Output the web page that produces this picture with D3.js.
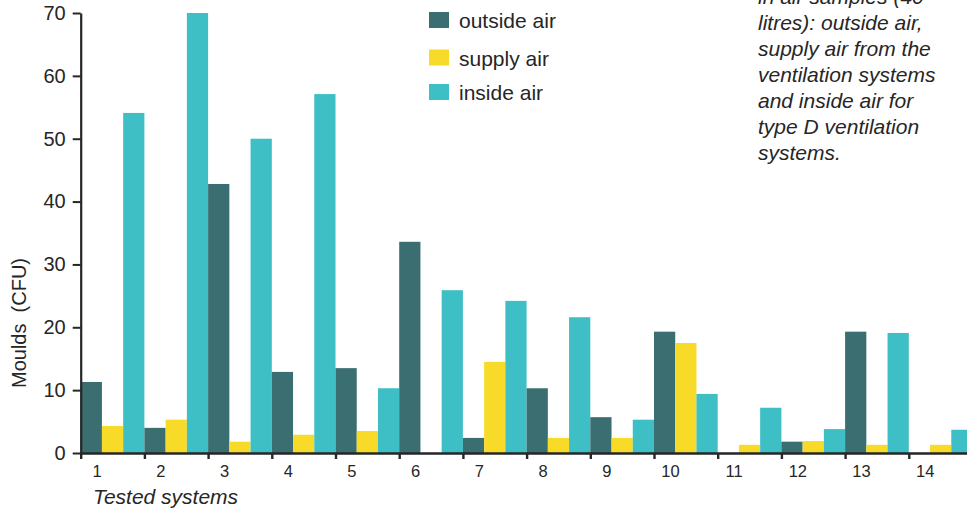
<!DOCTYPE html>
<html>
<head>
<meta charset="utf-8">
<script src="https://cdn.jsdelivr.net/npm/d3@7"></script>
<style>
  html, body { margin: 0; padding: 0; background: #fff; }
  svg { display: block; font-family: "Liberation Sans", Arial, sans-serif; }
</style>
</head>
<body>
<svg id="chart" width="967" height="510"></svg>
<script>
// Tested ventilation systems (type D)
const systems = ["1","2","3","4","5","6","7","8","9","10","11","12","13","14"];
const seriesNames = ["outside air", "supply air", "inside air"];
// Mould counts (CFU) per 40 litre air sample
const outsideAir = [11.3, 4.0, 42.8, 12.9, 13.5, 33.6, 2.4, 10.3, 5.7, 19.3, 0, 1.8, 19.3, 0];
const supplyAir  = [4.3, 5.3, 1.8, 2.9, 3.5, 0, 14.5, 2.4, 2.4, 17.5, 1.3, 1.9, 1.3, 1.3];
const insideAir  = [54.1, 70, 50, 57.1, 10.3, 25.9, 24.2, 21.6, 5.3, 9.4, 7.2, 3.8, 19.1, 3.7];
const yTicks = [0, 10, 20, 30, 40, 50, 60, 70];
const noteLines = [
  "in air samples (40",
  "litres): outside air,",
  "supply air from the",
  "ventilation systems",
  "and inside air for",
  "type D ventilation",
  "systems."
];

const colors = { "outside air": "#3b6e70", "supply air": "#f8db28", "inside air": "#3dbfc5" };
const ink = "#262626";

const seriesValues = [outsideAir, supplyAir, insideAir];
const rows = systems.map((s, i) => ({
  system: s,
  values: seriesNames.map((name, k) => ({ name, value: seriesValues[k][i] }))
}));

const svg = d3.select("#chart");

const x0 = d3.scaleBand().domain(systems).range([80.7, 972.5]).padding(0);
const x1 = d3.scaleBand().domain(seriesNames).range([0, x0.bandwidth()]).padding(0);
const y = d3.scaleLinear().domain([0, 70]).range([453, 13]);

// Bars
const groups = svg.append("g").selectAll("g")
  .data(rows).join("g")
  .attr("transform", d => `translate(${x0(d.system)},0)`);

groups.selectAll("rect")
  .data(d => d.values.filter(v => v.value > 0))
  .join("rect")
  .attr("x", d => x1(d.name))
  .attr("width", x1.bandwidth())
  .attr("y", d => y(d.value))
  .attr("height", d => y(0) - y(d.value))
  .attr("fill", d => colors[d.name]);

// Y axis
const yAxis = svg.append("g")
  .attr("transform", "translate(80.7,0)")
  .call(d3.axisLeft(y).tickValues(yTicks).tickSize(8).tickSizeOuter(0).tickPadding(7));
yAxis.select(".domain").attr("stroke", ink).attr("stroke-width", 2.2);
yAxis.selectAll(".tick line").attr("stroke", ink).attr("stroke-width", 2);
yAxis.selectAll(".tick text")
  .attr("fill", ink).style("font-size", "20px");

// X axis: ticks at group boundaries, labels sit within each group
const xPos = d3.scaleLinear().domain([0, systems.length]).range(x0.range());
const xAxis = svg.append("g")
  .attr("transform", `translate(0,${y(0)})`)
  .call(d3.axisBottom(xPos)
    .tickValues(d3.range(0, systems.length))
    .tickFormat(i => systems[i])
    .tickSize(6).tickSizeOuter(0).tickPadding(6));
xAxis.select(".domain").attr("stroke", ink).attr("stroke-width", 2.6);
xAxis.selectAll(".tick line").attr("stroke", ink).attr("stroke-width", 2.4);
xAxis.selectAll(".tick text")
  .attr("x", x0.bandwidth() / 4)
  .attr("fill", ink).style("font-size", "16.5px");

// Axis titles
svg.append("text")
  .attr("transform", "translate(26,323) rotate(-90)")
  .attr("text-anchor", "middle")
  .attr("fill", ink)
  .style("font-size", "20px")
  .text("Moulds\u00a0\u00a0(CFU)");

svg.append("text")
  .attr("x", 93).attr("y", 504)
  .attr("fill", ink)
  .style("font-size", "21px")
  .style("font-style", "italic")
  .text("Tested systems");

// Legend
const legend = svg.append("g").selectAll("g")
  .data(seriesNames).join("g")
  .attr("transform", (d, i) => `translate(429,${[12, 49.5, 84][i]})`);
legend.append("rect")
  .attr("width", 20).attr("height", 16)
  .attr("fill", d => colors[d]);
legend.append("text")
  .attr("x", 30).attr("y", 16)
  .attr("fill", ink)
  .style("font-size", "21px")
  .text(d => d);

// Note
svg.append("g").selectAll("text")
  .data(noteLines).join("text")
  .attr("x", 758)
  .attr("y", (d, i) => 4 + i * 26)
  .attr("fill", ink)
  .style("font-size", "21px")
  .style("font-style", "italic")
  .text(d => d);
</script>
</body>
</html>
